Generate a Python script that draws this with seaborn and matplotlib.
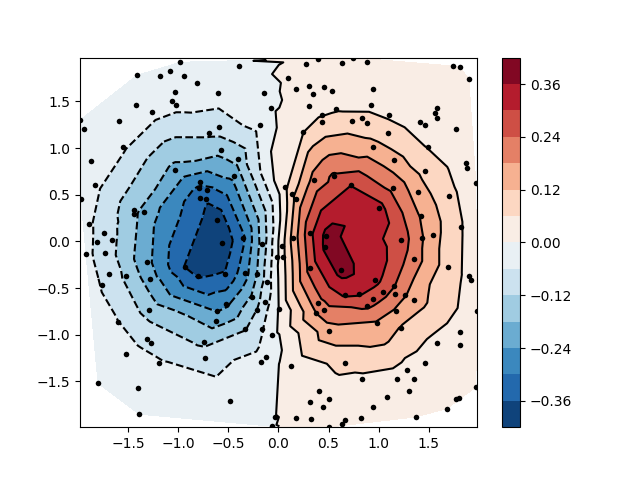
import matplotlib
matplotlib.use('Agg')
import matplotlib.pyplot as plt
import seaborn as sns

# scattered sample points (x, y) and their values z
x = [-0.98, -1.41, -1.18, -1.08, -0.94, -0.81, -1.03, -1.06, -1.02, -1.42,
     -1.26, -1.59, -1.98, -1.94, -1.55, -0.69, -0.39, -0.60, -0.14, -0.07,
     -0.18, -0.59, -0.57, 0.28, 0.40, 0.63, 0.10, 0.18, 0.31, 0.35,
     0.46, 0.53, 0.31, 0.57, 0.44, 0.44, 0.25, 0.74, 0.88, 1.74,
     1.81, 1.90, 0.94, 0.92, 1.10, 1.58, 1.56, 1.58, 1.41, 1.46,
     1.77, 0.83, 0.73, 0.88, 1.09, 0.94, 1.49, -1.87, -1.83, -1.97,
     -1.89, -1.74, -1.66, -1.81, -1.03, -1.44, -1.44, -1.34, -0.78, -0.79,
     -0.71, -0.78, -0.72, -0.40, -0.44, -0.61, -0.35, -0.56, -0.16, 0.07,
     0.14, 0.18, 0.36, 0.55, 0.15, 0.32, 0.48, 1.15, 1.87, 1.88,
     1.46, 1.97, 0.72, 1.14, 1.39, 1.70, 1.00, 1.42, 1.82, 1.54,
     1.43, 1.22, -1.92, -1.73, -1.69, -1.76, -1.52, -1.31, -1.28, -0.93,
     -0.80, -1.29, -1.60, -1.31, 0.04, -0.01, 0.05, -0.53, -0.33, -0.21,
     -0.11, -0.26, -0.13, -0.52, -0.61, -0.21, 0.01, -0.62, -0.33, -0.16,
     -0.06, 0.47, 0.62, 0.32, 0.66, 0.40, 0.46, 0.38, 0.50, 1.35,
     1.69, 1.90, 1.92, 0.96, 1.15, 1.04, 1.16, 1.26, 0.80, 0.94,
     0.88, 1.35, 1.17, 1.98, 0.98, 1.22, 1.81, -1.27, -1.52, -1.19,
     -0.74, -0.73, -1.80, -1.40, -1.39, -0.12, -0.17, -0.48, -0.03, -0.06,
     0.13, 0.41, 0.50, 0.32, 0.45, 0.18, 0.33, 0.50, 0.66, 0.63,
     0.66, 1.58, 1.81, 1.46, 1.28, 0.83, 1.18, 1.35, 1.30, 1.97,
     1.08, 1.80, 1.77, 0.94, 1.68, 0.82, 1.37]

y = [1.92, 1.78, 1.77, 1.83, 1.77, 1.70, 1.60, 1.50, 1.46, 1.46,
     1.39, 1.29, 1.30, 1.20, 1.01, 1.16, 1.88, 1.59, 1.59, 1.43,
     1.25, 1.23, 0.98, 1.90, 1.95, 1.91, 1.75, 1.63, 1.67, 1.58,
     1.65, 1.61, 1.45, 1.42, 1.35, 1.28, 1.17, 1.97, 1.92, 1.88,
     1.87, 1.74, 1.63, 1.46, 1.35, 1.43, 1.38, 1.32, 1.28, 1.25,
     1.20, 1.32, 1.29, 1.27, 1.16, 1.01, 1.01, 0.86, 0.60, 0.45,
     0.19, 0.09, 0.02, -0.01, 0.77, 0.34, 0.29, 0.32, 0.64, 0.57,
     0.55, 0.47, 0.45, 0.88, 0.70, 0.23, 0.04, -0.02, -0.03, 0.58,
     0.51, 0.46, 0.66, 0.70, 0.04, 0.09, 0.06, 0.87, 0.84, 0.79,
     0.75, 0.63, 0.60, 0.57, 0.53, 0.49, 0.36, 0.27, 0.16, 0.07,
     0.04, 0.02, -0.13, -0.12, -0.35, -0.47, -0.37, -0.22, -0.40, -0.27,
     -0.37, -0.73, -0.86, -1.04, -0.05, -0.17, -0.17, -0.35, -0.34, -0.35,
     -0.43, -0.60, -0.65, -0.67, -0.75, -0.73, -0.72, -0.85, -0.94, -0.94,
     -1.00, -0.06, -0.31, -0.28, -0.57, -0.66, -0.73, -0.77, -0.96, -0.19,
     -0.27, -0.37, -0.41, -0.41, -0.48, -0.54, -0.56, -0.57, -0.56, -0.62,
     -0.69, -0.63, -0.75, -0.75, -0.87, -0.93, -0.97, -1.09, -1.21, -1.30,
     -1.08, -1.25, -1.52, -1.57, -1.85, -1.24, -1.29, -1.71, -1.88, -1.98,
     -1.33, -1.60, -1.69, -1.72, -1.77, -1.89, -1.90, -1.99, -1.91, -1.96,
     -1.30, -1.09, -1.11, -1.30, -1.38, -1.47, -1.47, -1.47, -1.60, -1.56,
     -1.67, -1.68, -1.69, -1.77, -1.79, -1.89, -1.88]

z = [-0.009, -0.008, -0.013, -0.012, -0.017, -0.023, -0.028, -0.037, -0.043, -0.022,
     -0.037, -0.024, -0.007, -0.011, -0.051, -0.110, -0.010, -0.033, -0.011, -0.009,
     -0.037, -0.092, -0.158, 0.007, 0.008, 0.011, 0.005, 0.012, 0.017, 0.026,
     0.025, 0.030, 0.034, 0.055, 0.059, 0.071, 0.060, 0.009, 0.010, 0.003,
     0.002, 0.003, 0.027, 0.047, 0.053, 0.017, 0.021, 0.023, 0.037, 0.037,
     0.018, 0.073, 0.082, 0.082, 0.086, 0.141, 0.058, -0.027, -0.045, -0.033,
     -0.051, -0.083, -0.105, -0.068, -0.198, -0.161, -0.168, -0.201, -0.281, -0.309,
     -0.319, -0.340, -0.350, -0.158, -0.223, -0.401, -0.310, -0.410, -0.156, 0.050,
     0.106, 0.142, 0.204, 0.250, 0.146, 0.287, 0.380, 0.144, 0.028, 0.030,
     0.099, 0.027, 0.299, 0.226, 0.153, 0.074, 0.323, 0.176, 0.064, 0.143,
     0.186, 0.275, -0.047, -0.085, -0.086, -0.064, -0.131, -0.223, -0.211, -0.363,
     -0.367, -0.144, -0.059, -0.080, 0.040, -0.010, 0.048, -0.355, -0.262, -0.178,
     -0.090, -0.170, -0.084, -0.253, -0.241, -0.118, 0.006, -0.206, -0.123, -0.064,
     -0.022, 0.375, 0.384, 0.267, 0.309, 0.219, 0.219, 0.181, 0.155, 0.210,
     0.090, 0.045, 0.041, 0.323, 0.244, 0.264, 0.220, 0.187, 0.309, 0.264,
     0.252, 0.147, 0.170, 0.022, 0.175, 0.116, 0.027, -0.077, -0.035, -0.053,
     -0.132, -0.090, -0.007, -0.017, -0.007, -0.025, -0.031, -0.021, -0.001, -0.001,
     0.022, 0.027, 0.022, 0.015, 0.016, 0.005, 0.008, 0.007, 0.011, 0.009,
     0.079, 0.039, 0.020, 0.032, 0.037, 0.048, 0.034, 0.025, 0.019, 0.004,
     0.021, 0.004, 0.004, 0.017, 0.004, 0.012, 0.006]

levels = [-0.42, -0.36, -0.30, -0.24, -0.18, -0.12, -0.06, 0.0,
          0.06, 0.12, 0.18, 0.24, 0.30, 0.36, 0.42]
cbar_ticks = [-0.36, -0.24, -0.12, 0.0, 0.12, 0.24, 0.36]

fig, ax = plt.subplots(figsize=(6.4, 4.8), dpi=100)

ax.tricontour(x, y, z, levels=levels, colors='k')
cntr = ax.tricontourf(x, y, z, levels=levels, cmap='RdBu_r')
fig.colorbar(cntr, ax=ax, ticks=cbar_ticks)

sns.scatterplot(x=x, y=y, color='k', s=16, linewidth=0, ax=ax, zorder=3, legend=False)

ax.set_xlim(min(x), max(x))
ax.set_ylim(min(y), max(y))

plt.savefig('out.png', dpi=100)
